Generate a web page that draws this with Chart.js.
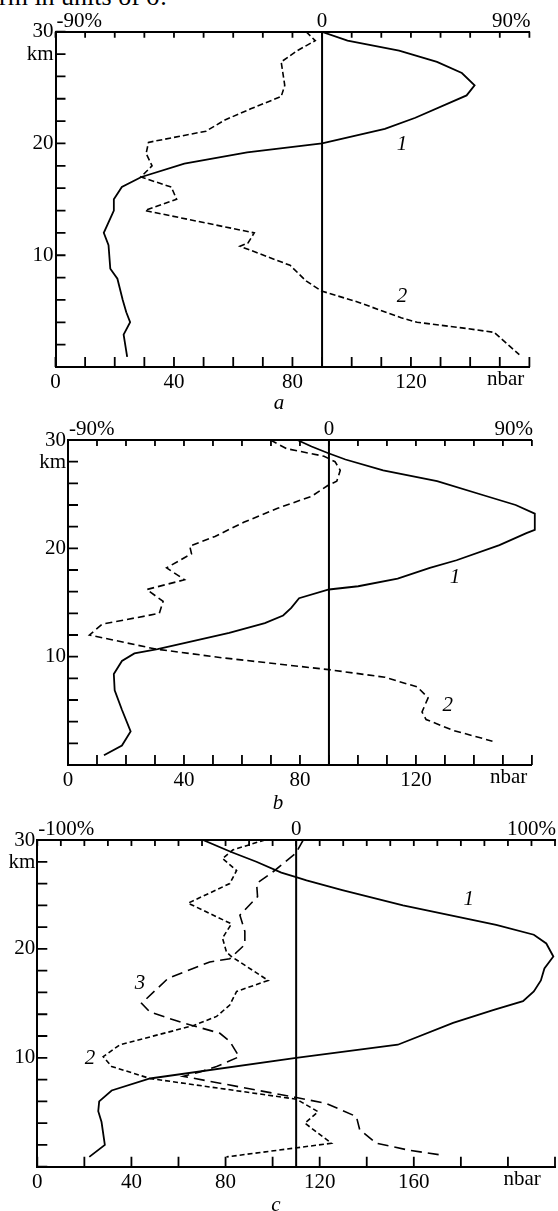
<!DOCTYPE html>
<html>
<head>
<meta charset="utf-8">
<script src="https://cdn.jsdelivr.net/npm/chart.js@4"></script>
<style>
  body { margin:0; background:#fff; }
  #wrap { position:relative; width:558px; height:1211px; overflow:hidden; background:#fff; }
  canvas { position:absolute; left:0; }
  .txt { position:absolute; font-family:"Liberation Serif", serif; line-height:1; color:#000; white-space:nowrap; }
  .let { font-style:italic; font-size:21px; transform:translateX(-50%); }
</style>
</head>
<body>
<div id="wrap">
  <div class="txt" style="top:-16px;left:-1px;font-size:26px">rm in units of σ.</div>
  <canvas id="ca" width="558" height="400" style="top:0"></canvas>
  <canvas id="cb" width="558" height="400" style="top:400px"></canvas>
  <canvas id="cc" width="558" height="411" style="top:800px"></canvas>
  <div class="txt let" style="left:279px;top:392px">a</div>
  <div class="txt let" style="left:278px;top:792px">b</div>
  <div class="txt let" style="left:276px;top:1194px">c</div>
</div>
<script>
// altitude (km) and pressure (nbar)
const altA1 = [30, 29.2, 28.3, 27.3, 26.3, 25.2, 24.3, 22.3, 21.3, 20.0, 19.2, 18.2, 17.0, 16.1, 15.0, 14.0, 12.0, 10.9, 8.8, 7.9, 6.0, 4.9, 4.0, 2.9, 0.9];
const nbarA1 = [89.8, 98.6, 116, 128.8, 137.2, 141.5, 138.8, 121.5, 111.2, 90, 64.7, 43.5, 29, 22.4, 19.7, 19.7, 16.3, 17.9, 18.5, 20.9, 22.7, 23.9, 25.2, 23.0, 24.2];
const altA2 = [30, 29.2, 28.3, 27.3, 25.2, 24.2, 23.1, 22.1, 21.1, 20.1, 19.1, 18.0, 17.0, 16.1, 15.0, 14.0, 12.0, 11.1, 10.8, 9.1, 7.7, 6.8, 5.8, 4.4, 4.0, 3.5, 3.1, 1.1];
const nbarA2 = [84.6, 87.7, 81.6, 76.2, 77.4, 76.2, 65.9, 57.2, 50.8, 31.4, 30.6, 32.6, 28.8, 39.1, 40.9, 30.2, 67.1, 65.0, 62.3, 79.2, 84.6, 89.8, 102.2, 116.7, 122.1, 137.2, 148.1, 156.6];

const altB1 = [30, 29.4, 28.8, 28.2, 27.2, 26.2, 24.9, 24.0, 23.2, 21.7, 21.4, 20.3, 18.9, 18.2, 17.2, 16.5, 16.2, 15.4, 14.5, 13.8, 13.1, 12.2, 11.3, 10.7, 10.3, 9.6, 8.4, 6.9, 5.1, 3.1, 1.8, 0.9];
const nbarB1 = [79.1, 84, 89.6, 95.7, 108.7, 127.3, 143.3, 154.4, 161, 161, 158.1, 148.8, 134, 124.8, 113.7, 100.1, 90, 79.7, 77, 74.2, 67.9, 55.6, 40.8, 30.9, 22.9, 18.6, 15.8, 16.1, 18.6, 21.6, 18.6, 12.4];
const altB2 = [30, 29.2, 28.5, 28.0, 27.2, 26.2, 25.8, 24.8, 23.7, 22.4, 21.1, 20.2, 19.5, 18.2, 17.1, 16.2, 15.1, 14.0, 13.0, 12.0, 10.7, 9.9, 8.8, 8.1, 7.2, 6.2, 4.9, 4.2, 3.2, 2.2];
const nbarB2 = [69.8, 75.4, 88.3, 92.1, 93.9, 92.7, 89.6, 84, 72.3, 60.6, 50.7, 42, 42.6, 34, 40.2, 27.2, 32.8, 31.5, 11.8, 7.4, 30.3, 53.1, 90, 109.3, 120.5, 124.2, 122.1, 123.5, 132.8, 146.4];

const altC1 = [30, 28.9, 28.0, 27.0, 26.6, 26.3, 25.4, 24.0, 22.9, 22.2, 21.3, 20.5, 19.3, 18.2, 17.1, 16.1, 15.2, 14.4, 13.2, 11.2, 10.0, 8.1, 7.0, 6.0, 5.1, 4.1, 2.0, 0.9];
const nbarC1 = [70.4, 82.4, 93.1, 103.7, 110, 114.4, 129.6, 155.4, 179.8, 195, 211, 216.3, 219.3, 215.5, 214, 211, 206.4, 194, 176.7, 153.2, 110, 47.9, 31.6, 26.3, 25.9, 27.3, 28.7, 22.1];
const altC2 = [30, 29.1, 28.3, 27.2, 26.0, 24.2, 22.3, 21.0, 19.7, 19.3, 17.1, 16.1, 14.85, 13.8, 12.95, 11.2, 10.1, 9.2, 8.1, 6.2, 5.05, 4.0, 2.15, 0.9];
const nbarC2 = [96.7, 83.2, 78.7, 84.7, 81.8, 64.1, 82.5, 78.7, 80.4, 82.5, 98.1, 84.7, 81.8, 76.2, 66.2, 35.1, 28.0, 31.6, 47.9, 110.1, 119.3, 113.7, 125, 80.4];
const altC3 = [30, 28.8, 27.2, 26.0, 24.8, 23.1, 21.6, 20.4, 19.1, 18.8, 17.3, 15.0, 14.2, 13.2, 12.95, 12.25, 11.5, 10.1, 9.2, 8.7, 8.3, 6.35, 5.8, 4.6, 3.4, 2.15, 1.5, 1.07];
const nbarC3 = [113, 109.9, 100.9, 93.2, 93.6, 86.1, 88.2, 88.2, 81.8, 73.3, 55.6, 44.3, 47.9, 62.0, 66.2, 77.6, 81.8, 85.8, 76.2, 69.1, 62, 110.1, 122.9, 135.6, 137, 144.1, 158.3, 171.7];

// axis labels
const pctA = ['-90%', '0', '90%'];
const pctC = ['-100%', '0', '100%'];
const nbarTicksAB = [0, 40, 80, 120];
const nbarTicksC = [0, 40, 80, 120, 160];
const kmTicks = [10, 20, 30];

const FONT = '"Liberation Serif", serif';
const pts = (alt, v) => alt.map((a, i) => ({ x: v[i], y: a }));

// inward tick marks, top % labels, units, curve numbers
const deco = {
  id: 'deco',
  afterDraw(chart, args, o) {
    const ctx = chart.ctx, a = chart.chartArea, { x, x2, y } = chart.scales;
    ctx.save();
    ctx.strokeStyle = '#000';
    ctx.lineWidth = 1.8;
    ctx.beginPath();
    x.ticks.forEach(t => { const p = x.getPixelForValue(t.value); ctx.moveTo(p, a.bottom); ctx.lineTo(p, a.bottom - 10); });
    x2.ticks.forEach(t => { const p = x2.getPixelForValue(t.value); ctx.moveTo(p, a.top); ctx.lineTo(p, a.top + 6); });
    y.ticks.forEach(t => { const p = y.getPixelForValue(t.value); ctx.moveTo(a.left, p); ctx.lineTo(a.left + 10, p); });
    ctx.stroke();

    ctx.fillStyle = '#000';
    ctx.font = '21px ' + FONT;
    ctx.textBaseline = 'alphabetic';
    ctx.textAlign = 'left';
    ctx.fillText(o.pct[0], a.left + 1, a.top - 5);
    ctx.textAlign = 'center';
    ctx.fillText(o.pct[1], x2.getPixelForValue(o.zero), a.top - 5);
    ctx.textAlign = 'right';
    ctx.fillText(o.pct[2], a.right + 1, a.top - 5);
    ctx.fillText('km', a.left - 2, y.getPixelForValue(30) + 28);
    ctx.textAlign = 'center';
    ctx.fillText('nbar', x.getPixelForValue(o.unitAt), a.bottom + 18);

    ctx.font = 'italic 21px ' + FONT;
    ctx.textBaseline = 'middle';
    o.marks.forEach(m => ctx.fillText(m[0], x.getPixelForValue(m[1]), y.getPixelForValue(m[2])));
    ctx.restore();
  }
};

function panel(id, p) {
  const H = document.getElementById(id).height;
  const line = (alt, v, dash, extra) => Object.assign({
    data: pts(alt, v), showLine: true, pointRadius: 0, borderColor: '#000',
    borderWidth: dash.length ? 1.6 : 1.8, borderDash: dash, tension: 0
  }, extra || {});
  const sets = p.curves.map(c => line(c[0], c[1], c[2], c[3]));
  sets.push(line([0, 30], [p.zero, p.zero], [], { borderWidth: 2 }));
  const tickFont = { family: FONT, size: 21 };
  return new Chart(document.getElementById(id), {
    type: 'scatter',
    data: { datasets: sets },
    plugins: [deco],
    options: {
      responsive: false, animation: false,
      layout: { padding: { left: 0, right: 558 - p.right, top: 0, bottom: 0 } },
      plugins: {
        legend: { display: false }, tooltip: { enabled: false },
        deco: { pct: p.pct, zero: p.zero, unitAt: p.unitAt, marks: p.marks }
      },
      scales: {
        x: {
          type: 'linear', position: 'bottom', min: 0, max: p.max,
          afterFit: s => { s.height = H - p.bottom; },
          grid: { drawOnChartArea: false, drawTicks: false },
          border: { color: '#000', width: 2 },
          ticks: { stepSize: p.step, autoSkip: false, maxRotation: 0, padding: 3, color: '#000', font: tickFont,
                   callback: v => p.labels.includes(v) ? String(v) : '' }
        },
        x2: {
          type: 'linear', position: 'top', min: 0, max: p.max,
          afterFit: s => { s.height = p.top; },
          grid: { drawOnChartArea: false, drawTicks: false },
          border: { color: '#000', width: 2 },
          ticks: { stepSize: 10, autoSkip: false, callback: () => '' }
        },
        y: {
          type: 'linear', min: 0, max: 30,
          afterFit: s => { s.width = p.left; },
          grid: { drawOnChartArea: false, drawTicks: false },
          border: { color: '#000', width: 2 },
          ticks: { stepSize: 2, autoSkip: false, padding: 2, color: '#000', font: tickFont,
                   callback: v => kmTicks.includes(v) ? String(v) : '' }
        }
      }
    }
  });
}

panel('ca', {
  left: 55.5, right: 529.4, top: 31.7, bottom: 367, max: 160, step: 10, zero: 90,
  pct: pctA, labels: nbarTicksAB, unitAt: 152,
  curves: [[altA1, nbarA1, []], [altA2, nbarA2, [6, 3]]],
  marks: [['1', 117, 19.9], ['2', 117, 6.3]]
});
panel('cb', {
  left: 68, right: 531.9, top: 40, bottom: 365, max: 160, step: 10, zero: 90,
  pct: pctA, labels: nbarTicksAB, unitAt: 152,
  curves: [[altB1, nbarB1, [], { clip: false }], [altB2, nbarB2, [7, 4]]],
  marks: [['1', 133.5, 17.3], ['2', 131, 5.5]]
});
panel('cc', {
  left: 37.3, right: 555.4, top: 40, bottom: 366.7, max: 220, step: 20, zero: 110,
  pct: pctC, labels: nbarTicksC, unitAt: 206,
  curves: [[altC1, nbarC1, []], [altC2, nbarC2, [5, 3]], [altC3, nbarC3, [11, 6]]],
  marks: [['1', 183.3, 24.5], ['3', 43.6, 16.8], ['2', 22.4, 9.95]]
});
</script>
</body>
</html>
